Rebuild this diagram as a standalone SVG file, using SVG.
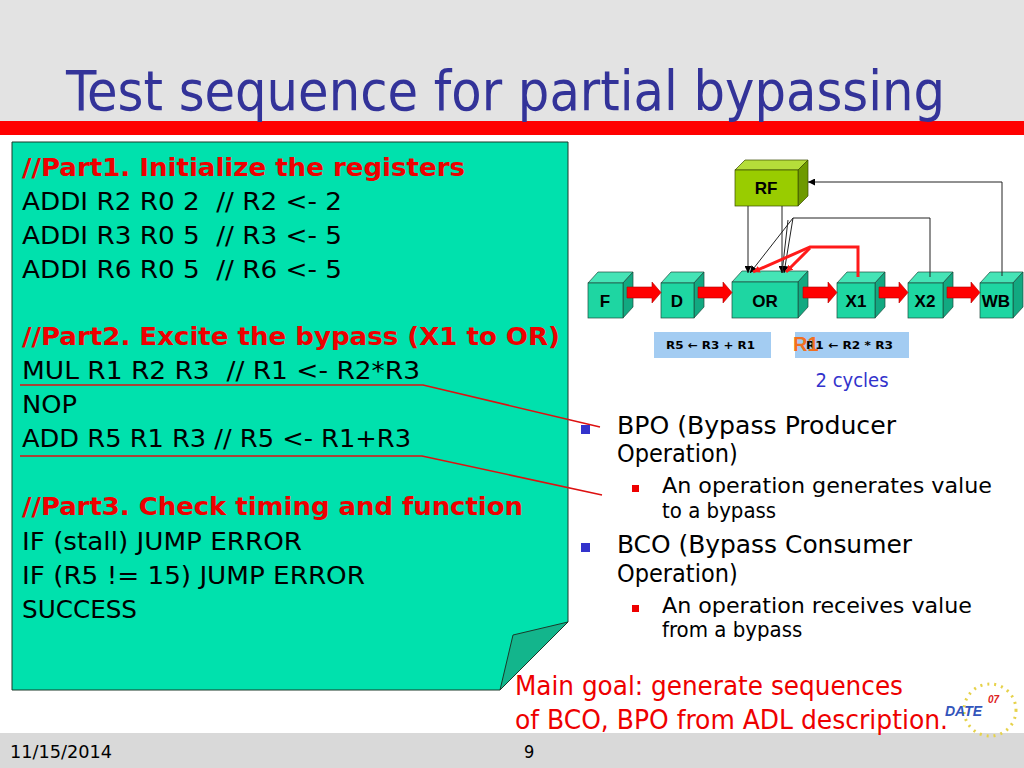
<svg xmlns="http://www.w3.org/2000/svg" width="1024" height="768" viewBox="0 0 1024 768">
<defs>
<style>
.t{font-family:"DejaVu Sans Condensed","DejaVu Sans",sans-serif;}
.code{font-size:24px;fill:#000;white-space:pre;}
.hd{font-size:24px;font-weight:bold;fill:#ee0000;}
.bl{font-size:25px;fill:#000;}
.sb{font-size:22px;fill:#000;}
.lbl{font-family:"Liberation Sans",Arial,sans-serif;font-weight:bold;font-size:17px;fill:#000;text-anchor:middle;}
.sm{font-family:"DejaVu Sans",sans-serif;font-weight:bold;font-size:11px;fill:#000;}
.front{fill:#1ed6a2;stroke:#1d4b3c;stroke-width:0.7;}
.top{fill:#45e4b6;stroke:#1d4b3c;stroke-width:0.7;}
.side{fill:#12a981;stroke:#1d4b3c;stroke-width:0.7;}
.rff{fill:#99cc00;stroke:#3a4a00;stroke-width:0.7;}
.rft{fill:#b5dd3a;stroke:#3a4a00;stroke-width:0.7;}
.rfs{fill:#6e9a00;stroke:#3a4a00;stroke-width:0.7;}
.ra{fill:#ff0000;stroke:#b00000;stroke-width:0.6;}
.bk{fill:none;stroke:#222;stroke-width:1;}
.rd{fill:none;stroke:#ff1a1a;stroke-width:3;}
</style>
<marker id="ah" viewBox="0 0 10 10" refX="10" refY="5" markerWidth="7" markerHeight="7" orient="auto" markerUnits="userSpaceOnUse"><path d="M0,0 L10,5 L0,10 z" fill="#000"/></marker>
<marker id="ahr" viewBox="0 0 10 10" refX="10" refY="5" markerWidth="7" markerHeight="7" orient="auto" markerUnits="userSpaceOnUse"><path d="M0,0 L10,5 L0,10 z" fill="#ff1a1a"/></marker>
</defs>

<!-- background -->
<rect x="0" y="0" width="1024" height="768" fill="#ffffff"/>
<rect x="0" y="0" width="1024" height="121" fill="#e3e3e3"/>
<rect x="0" y="121" width="1024" height="14" fill="#ff0000"/>
<rect x="0" y="733" width="1024" height="35" fill="#d9d9d9"/>
<text class="t" x="66" y="110" font-size="55" fill="#333399" textLength="879" lengthAdjust="spacingAndGlyphs">Test sequence for partial bypassing</text>

<!-- note -->
<g id="note">
<polygon points="12,142 568,142 568,622 500,690 12,690" fill="#00e1ad" stroke="#1a3a2a" stroke-width="1"/>
<polygon points="500,690 513,635 568,622" fill="#13b58c" stroke="#1a3a2a" stroke-width="1"/>
<g class="t">
<text class="hd" x="22" y="176" textLength="443" lengthAdjust="spacingAndGlyphs">//Part1. Initialize the registers</text>
<text class="code" x="22" y="210" textLength="320" lengthAdjust="spacingAndGlyphs" xml:space="preserve">ADDI R2 R0 2  // R2 &lt;- 2</text>
<text class="code" x="22" y="244" textLength="320" lengthAdjust="spacingAndGlyphs" xml:space="preserve">ADDI R3 R0 5  // R3 &lt;- 5</text>
<text class="code" x="22" y="278" textLength="320" lengthAdjust="spacingAndGlyphs" xml:space="preserve">ADDI R6 R0 5  // R6 &lt;- 5</text>
<text class="hd" x="22" y="345" textLength="538" lengthAdjust="spacingAndGlyphs">//Part2. Excite the bypass (X1 to OR)</text>
<text class="code" x="22" y="379" textLength="398" lengthAdjust="spacingAndGlyphs" xml:space="preserve">MUL R1 R2 R3  // R1 &lt;- R2*R3</text>
<text class="code" x="22" y="413" textLength="55" lengthAdjust="spacingAndGlyphs">NOP</text>
<text class="code" x="22" y="447" textLength="389" lengthAdjust="spacingAndGlyphs">ADD R5 R1 R3 // R5 &lt;- R1+R3</text>
<text class="hd" x="22" y="515" textLength="501" lengthAdjust="spacingAndGlyphs">//Part3. Check timing and function</text>
<text class="code" x="22" y="550" textLength="280" lengthAdjust="spacingAndGlyphs">IF (stall) JUMP ERROR</text>
<text class="code" x="22" y="584" textLength="343" lengthAdjust="spacingAndGlyphs">IF (R5 != 15) JUMP ERROR</text>
<text class="code" x="22" y="618" textLength="115" lengthAdjust="spacingAndGlyphs">SUCCESS</text>
</g>
</g>

<!-- pointer lines -->
<g id="pointers" fill="none" stroke="#dd1111" stroke-width="1.5">
<polyline points="20,385 423,385 600,427"/>
<polyline points="20,456 422,456 602,495"/>
</g>

<!-- pipeline nodes -->
<g id="RF">
<polygon class="rft" points="735,170 745,160 808,160 798,170"/>
<polygon class="rfs" points="798,170 808,160 808,196 798,206"/>
<rect class="rff" x="735" y="170" width="63" height="36"/>
<text class="lbl" x="766" y="194">RF</text>
</g>
<g id="F">
<polygon class="top" points="588,283 598,272 633,272 623,283"/>
<polygon class="side" points="623,283 633,272 633,307 623,318"/>
<rect class="front" x="588" y="283" width="35" height="35"/>
<text class="lbl" x="605" y="307">F</text>
</g>
<g id="D">
<polygon class="top" points="661,283 671,272 704,272 694,283"/>
<polygon class="side" points="694,283 704,272 704,307 694,318"/>
<rect class="front" x="661" y="283" width="33" height="35"/>
<text class="lbl" x="677" y="307">D</text>
</g>
<g id="OR">
<polygon class="top" points="732,282 742,271 808,271 798,282"/>
<polygon class="side" points="798,282 808,271 808,307 798,318"/>
<rect class="front" x="732" y="282" width="66" height="36"/>
<text class="lbl" x="765" y="307">OR</text>
</g>
<g id="X1">
<polygon class="top" points="837,283 847,272 885,272 875,283"/>
<polygon class="side" points="875,283 885,272 885,307 875,318"/>
<rect class="front" x="837" y="283" width="38" height="35"/>
<text class="lbl" x="856" y="307">X1</text>
</g>
<g id="X2">
<polygon class="top" points="908,283 918,272 953,272 943,283"/>
<polygon class="side" points="943,283 953,272 953,307 943,318"/>
<rect class="front" x="908" y="283" width="35" height="35"/>
<text class="lbl" x="925" y="307">X2</text>
</g>
<g id="WB">
<polygon class="top" points="980,283 990,272 1023,272 1013,283"/>
<polygon class="side" points="1013,283 1023,272 1023,307 1013,318"/>
<rect class="front" x="980" y="283" width="33" height="35"/>
<text class="lbl" x="996" y="307">WB</text>
</g>

<!-- connectors -->
<g id="connectors">
<polygon class="ra" points="627,287 652,287 652,282 661,292.5 652,303 652,298 627,298"/>
<polygon class="ra" points="698,287 723,287 723,282 732,292.5 723,303 723,298 698,298"/>
<polygon class="ra" points="803,287 828,287 828,282 837,292.5 828,303 828,298 803,298"/>
<polygon class="ra" points="879,287 899,287 899,282 908,292.5 899,303 899,298 879,298"/>
<polygon class="ra" points="947,287 971,287 971,282 980,292.5 971,303 971,298 947,298"/>
<line class="bk" x1="748" y1="206" x2="748" y2="273" marker-end="url(#ah)"/>
<line class="bk" x1="782" y1="206" x2="782" y2="273" marker-end="url(#ah)"/>
<polyline class="bk" points="1002,276 1002,182 808,182" marker-end="url(#ah)"/>
<polyline class="bk" points="930,277 930,218 793,218 750,273" marker-end="url(#ah)"/>
<line class="bk" x1="793" y1="218" x2="784" y2="273" marker-end="url(#ah)"/>
<line class="bk" x1="788" y1="220" x2="782" y2="273"/>
<polyline class="rd" points="858,277 858,247 810,247 753,272" marker-end="url(#ahr)"/>
<line class="rd" x1="810" y1="248" x2="786" y2="272" marker-end="url(#ahr)"/>
</g>

<!-- labels -->
<g id="labels">
<rect x="654" y="332" width="117" height="26" fill="#a3ccf2"/>
<text class="sm" x="666" y="349" textLength="89" lengthAdjust="spacingAndGlyphs">R5 ← R3 + R1</text>
<rect x="795" y="332" width="114" height="26" fill="#a3ccf2"/>
<text class="sm" x="806" y="349" textLength="87" lengthAdjust="spacingAndGlyphs">R1 ← R2 * R3</text>
<text x="793" y="351" font-family="Liberation Sans,Arial,sans-serif" font-weight="bold" font-size="20" fill="#f07020">R1</text>
<text class="t" x="852" y="387" font-size="20" fill="#3333cc" text-anchor="middle">2 cycles</text>
</g>

<!-- bullets -->
<g id="bullets" class="t">
<rect x="581" y="425" width="9" height="9" fill="#3333cc"/>
<text class="bl" x="617" y="434" textLength="279" lengthAdjust="spacingAndGlyphs">BPO (Bypass Producer</text>
<text class="bl" x="617" y="462">Operation)</text>
<rect x="632" y="485" width="7" height="7" fill="#ee0000"/>
<text class="sb" x="662" y="493" textLength="330" lengthAdjust="spacingAndGlyphs">An operation generates value</text>
<text class="sb" x="662" y="518">to a bypass</text>
<rect x="581" y="543" width="9" height="9" fill="#3333cc"/>
<text class="bl" x="617" y="553" textLength="295" lengthAdjust="spacingAndGlyphs">BCO (Bypass Consumer</text>
<text class="bl" x="617" y="582">Operation)</text>
<rect x="632" y="605" width="7" height="7" fill="#ee0000"/>
<text class="sb" x="662" y="613" textLength="310" lengthAdjust="spacingAndGlyphs">An operation receives value</text>
<text class="sb" x="662" y="637">from a bypass</text>
</g>

<g id="goal" class="t">
<text x="515" y="695" font-size="26" fill="#ee0000" textLength="388" lengthAdjust="spacingAndGlyphs">Main goal: generate sequences</text>
<text x="515" y="729" font-size="26" fill="#ee0000" textLength="433" lengthAdjust="spacingAndGlyphs">of BCO, BPO from ADL description.</text>
</g>

<!-- logo -->
<g id="logo">
<circle cx="990" cy="710" r="26" fill="none" stroke="#e6d24a" stroke-width="3" stroke-dasharray="2 5"/>
<text x="945" y="716" font-family="Liberation Sans,Arial,sans-serif" font-weight="bold" font-style="italic" font-size="14" fill="#3355bb">DATE</text>
<text x="988" y="703" font-family="Liberation Sans,Arial,sans-serif" font-weight="bold" font-style="italic" font-size="10" fill="#dd2222">07</text>
</g>

<g id="footer" class="t">
<text x="10" y="758" font-size="18" fill="#000" textLength="102" lengthAdjust="spacingAndGlyphs">11/15/2014</text>
<text x="524" y="758" font-size="18" fill="#000">9</text>
</g>
</svg>
